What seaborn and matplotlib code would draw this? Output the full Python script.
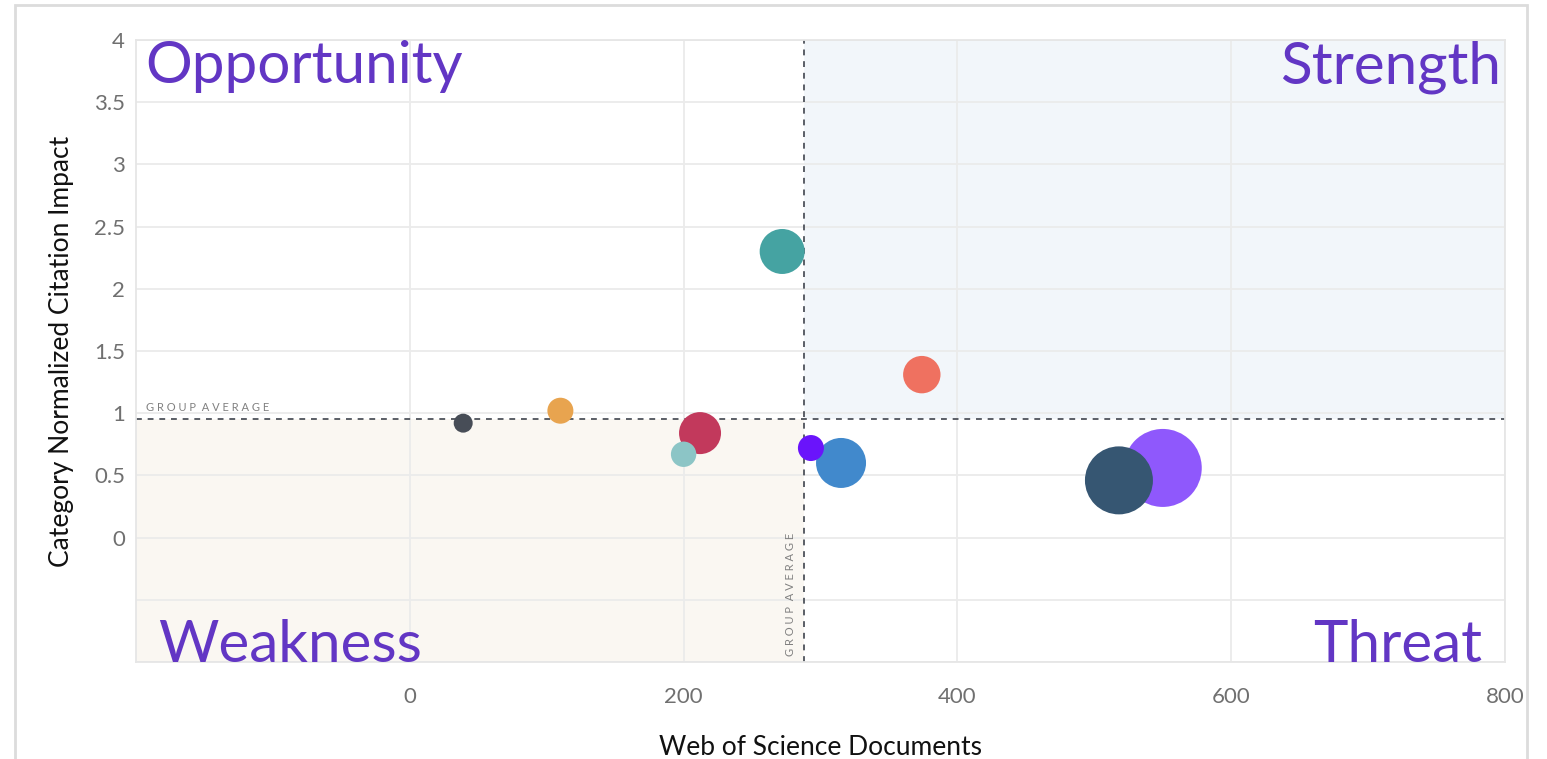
import numpy as np
import pandas as pd
import matplotlib.pyplot as plt
import matplotlib.patches as mpatches
import seaborn as sns

# bubble data
documents = [550, 518, 315, 272, 374, 212, 200, 293, 110, 39]
cnci      = [0.56, 0.46, 0.60, 2.30, 1.31, 0.84, 0.67, 0.72, 1.02, 0.92]
cites     = [1521, 1156, 625, 506, 350, 441, 161, 169, 169, 90]
colors    = ["#8F58FC", "#365672", "#4189CC", "#45A3A2", "#EF7160",
             "#C2395C", "#8CC5C6", "#6A14FB", "#E8A44F", "#474D57"]

avg_x = 288
avg_y = 0.95
x_ticks = [0, 200, 400, 600, 800]
y_ticks = [-1, -0.5, 0, 0.5, 1, 1.5, 2, 2.5, 3, 3.5, 4]
y_labels = ["", "", "0", "0.5", "1", "1.5", "2", "2.5", "3", "3.5", "4"]

df = pd.DataFrame({"docs": documents, "cnci": cnci, "cites": cites,
                   "id": range(len(documents))})

sns.set_style("white")
plt.rcParams["font.family"] = ["Lato", "DejaVu Sans"]

fig = plt.figure(figsize=(15.47, 7.59), dpi=100)
ax = fig.add_axes([136 / 1547, 1 - 662 / 759, (1505 - 136) / 1547, (662 - 40) / 759])

# screenshot frame
fig.add_artist(mpatches.Rectangle((15 / 1547, -0.05), (1527 - 15) / 1547, 1.05 - 5 / 759,
                                  transform=fig.transFigure, fill=False,
                                  edgecolor="#dcdcdc", linewidth=2))

ax.set_xlim(-200, 800)
ax.set_ylim(-1, 4)

# quadrant shading
ax.axvspan(avg_x, 800, ymin=(avg_y + 1) / 5, ymax=1, color="#F2F6FA", zorder=0, lw=0)
ax.axvspan(-200, avg_x, ymin=0, ymax=(avg_y + 1) / 5, color="#FAF7F2", zorder=0, lw=0)

ax.set_xticks(x_ticks)
ax.set_yticks(y_ticks)
ax.set_yticklabels(y_labels)
ax.grid(True, color="#ebebeb", linewidth=1.3, zorder=0.5)
ax.set_axisbelow(True)
for s in ax.spines.values():
    s.set_color("#e6e6e6")
    s.set_linewidth(1.3)
ax.tick_params(length=0, labelsize=16, labelcolor="#707070")
ax.tick_params(axis="x", pad=18)
ax.tick_params(axis="y", pad=8)

ax.axhline(avg_y, color="#5a5e66", linestyle=(0, (3, 3)), linewidth=1.4, zorder=2)
ax.axvline(avg_x, color="#5a5e66", linestyle=(0, (3, 3)), linewidth=1.4, zorder=2)
ax.text(-193, avg_y + 0.05, "G R O U P  A V E R A G E",
        fontsize=8, color="#808080", va="bottom", ha="left")
ax.text(avg_x - 6, -0.95, "G R O U P  A V E R A G E",
        fontsize=8, color="#808080", rotation=90, va="bottom", ha="right")

area_scale = (2 * 0.72) ** 2
sns.scatterplot(data=df, x="docs", y="cnci", hue="id", palette=colors,
                size="cites", sizes=(min(cites) * area_scale, max(cites) * area_scale),
                size_norm=(min(cites), max(cites)), linewidth=0, alpha=1,
                legend=False, ax=ax, zorder=3)

ax.set_xlabel("Web of Science Documents", fontsize=19, color="#111111", labelpad=20)
ax.set_ylabel("Category Normalized Citation Impact", fontsize=19, color="#111111", labelpad=14)

qc = "#6236C4"
ax.text(0.007, 1.0, "Opportunity", transform=ax.transAxes, fontsize=42,
        color=qc, ha="left", va="top")
ax.text(0.997, 1.0, "Strength", transform=ax.transAxes, fontsize=42,
        color=qc, ha="right", va="top")
ax.text(0.016, 0.0, "Weakness", transform=ax.transAxes, fontsize=42,
        color=qc, ha="left", va="baseline")
ax.text(0.983, 0.0, "Threat", transform=ax.transAxes, fontsize=42,
        color=qc, ha="right", va="baseline")

fig.savefig("out.png", dpi=100)
